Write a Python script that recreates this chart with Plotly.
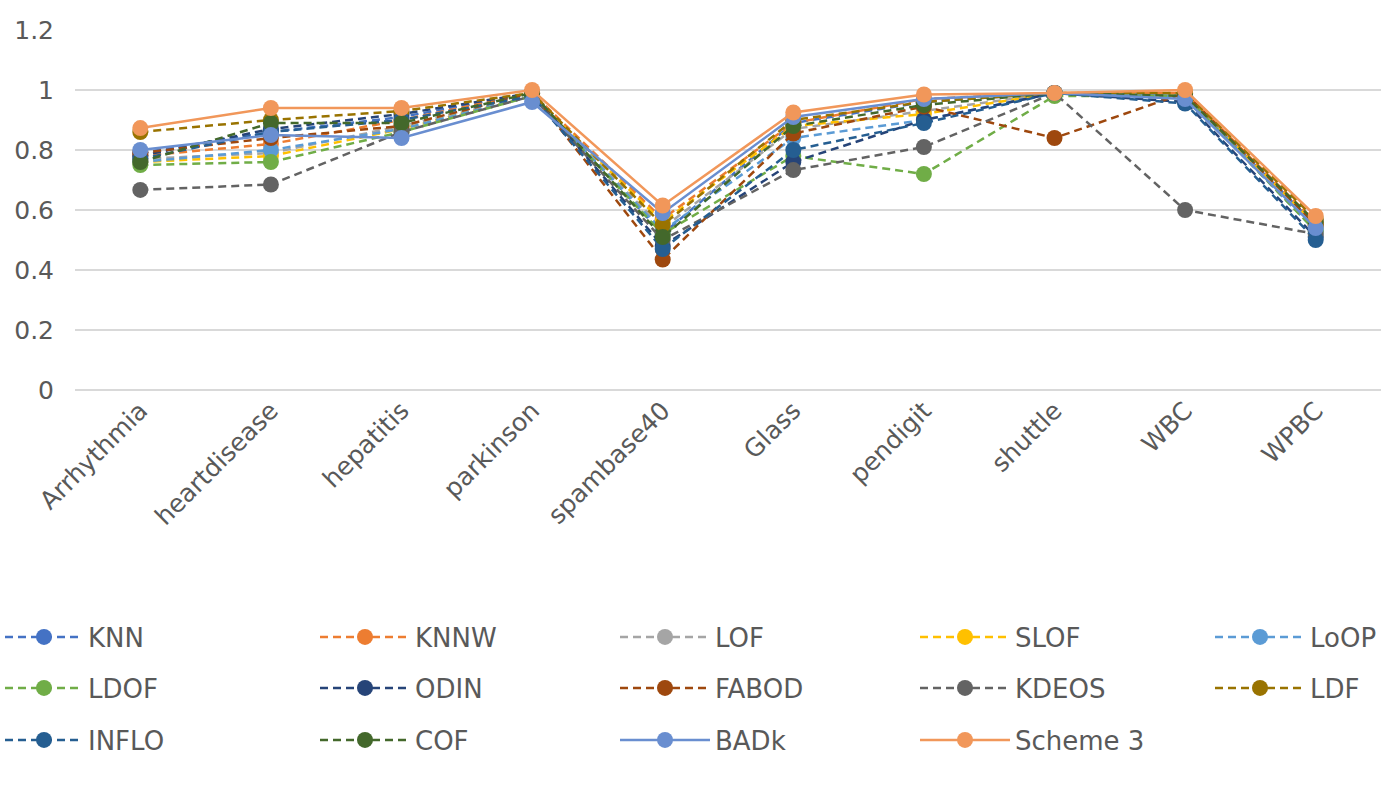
import plotly.graph_objects as go

categories = ["Arrhythmia", "heartdisease", "hepatitis", "parkinson", "spambase40",
              "Glass", "pendigit", "shuttle", "WBC", "WPBC"]

knn      = [0.79, 0.86, 0.91, 0.99, 0.52, 0.89, 0.96, 0.99, 0.98, 0.55]
knnw     = [0.78, 0.82, 0.90, 0.99, 0.57, 0.89, 0.97, 0.99, 0.99, 0.56]
lof      = [0.77, 0.79, 0.88, 0.98, 0.54, 0.87, 0.93, 0.99, 0.98, 0.54]
slof     = [0.76, 0.78, 0.87, 0.98, 0.56, 0.88, 0.92, 0.99, 0.98, 0.55]
loop     = [0.76, 0.80, 0.87, 0.98, 0.53, 0.84, 0.90, 0.99, 0.98, 0.53]
ldof     = [0.75, 0.76, 0.86, 0.98, 0.52, 0.78, 0.72, 0.98, 0.98, 0.53]
odin     = [0.78, 0.87, 0.92, 0.99, 0.48, 0.76, 0.90, 0.99, 0.96, 0.51]
fabod    = [0.79, 0.84, 0.88, 0.99, 0.435, 0.855, 0.945, 0.84, 0.99, 0.55]
kdeos    = [0.667, 0.685, 0.86, 0.98, 0.50, 0.733, 0.81, 0.99, 0.60, 0.52]
ldf      = [0.86, 0.90, 0.93, 0.99, 0.55, 0.90, 0.96, 0.99, 0.99, 0.57]
inflo    = [0.77, 0.86, 0.90, 0.98, 0.47, 0.80, 0.89, 0.99, 0.955, 0.50]
cof      = [0.76, 0.89, 0.89, 0.99, 0.51, 0.88, 0.95, 0.99, 0.98, 0.56]
badk     = [0.80, 0.85, 0.84, 0.96, 0.59, 0.91, 0.97, 0.99, 0.97, 0.54]
scheme3  = [0.873, 0.94, 0.94, 1.00, 0.615, 0.925, 0.985, 0.99, 1.00, 0.58]

series_names = ["KNN", "KNNW", "LOF", "SLOF", "LoOP",
                "LDOF", "ODIN", "FABOD", "KDEOS", "LDF",
                "INFLO", "COF", "BADk", "Scheme 3"]
series_values = [knn, knnw, lof, slof, loop, ldof, odin, fabod, kdeos, ldf,
                 inflo, cof, badk, scheme3]
colors = ["#4472C4", "#ED7D31", "#A5A5A5", "#FFC000", "#5B9BD5",
          "#70AD47", "#264478", "#9E480E", "#636363", "#997300",
          "#255E91", "#43682B", "#698ED0", "#F1975A"]

font_color = "#595959"
font_family = "DejaVu Sans, sans-serif"
W, H = 1397, 809
col_text_x = [88, 415, 715, 1015, 1310]
col_itemw = [78, 90, 90, 90, 90]
row_y = [637, 688, 740]

fig = go.Figure()
legend_layouts = {}
for i, (name, vals, col) in enumerate(zip(series_names, series_values, colors)):
    solid = name in ("BADk", "Scheme 3")
    lid = "legend" if i == 0 else f"legend{i + 1}"
    fig.add_trace(go.Scatter(
        x=categories, y=vals, name=name, mode="lines+markers",
        line=dict(color=col, width=2.5, dash="solid" if solid else "8px,5px"),
        marker=dict(color=col, size=16, symbol="circle"),
        legend=lid,
    ))
    r, c = divmod(i, 5)
    iw = col_itemw[c]
    legend_layouts[lid] = dict(
        orientation="h", xref="container", yref="container",
        x=max(col_text_x[c] - iw - 10, 0) / W, y=1 - row_y[r] / H,
        xanchor="left", yanchor="middle",
        font=dict(size=26, color=font_color, family=font_family),
        itemwidth=iw, bgcolor="rgba(0,0,0,0)",
        itemclick=False, itemdoubleclick=False,
    )

fig.update_layout(
    width=W, height=H,
    margin=dict(l=75, r=16, t=30, b=419),
    paper_bgcolor="white", plot_bgcolor="white",
    font=dict(family=font_family, color=font_color, size=25),
    showlegend=True,
    xaxis=dict(
        type="category", tickangle=-45, showgrid=False, showline=False,
        zeroline=False, ticks="", tickfont=dict(size=25, color=font_color),
        range=[-0.5, 9.5], automargin=False,
    ),
    yaxis=dict(
        range=[0, 1.2], tickvals=[0, 0.2, 0.4, 0.6, 0.8, 1.0, 1.2],
        ticktext=["0", "0.2", "0.4", "0.6", "0.8", "1", "1.2"],
        showgrid=True, gridcolor="#D9D9D9", gridwidth=1.5,
        zeroline=True, zerolinecolor="#D9D9D9", zerolinewidth=1.5,
        showline=False, ticks="", ticklabelstandoff=20, automargin=False,
        tickfont=dict(size=25, color=font_color),
    ),
    **legend_layouts,
)

fig.write_html("out.html")
